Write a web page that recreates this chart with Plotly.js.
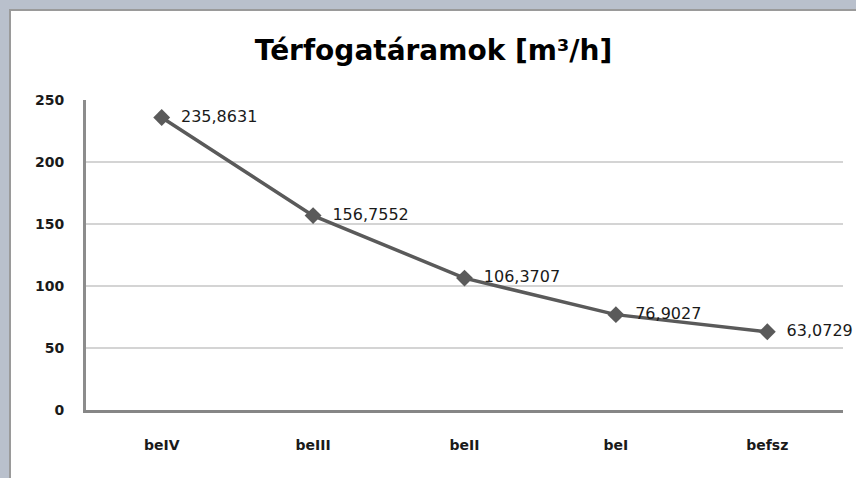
<!DOCTYPE html>
<html>
<head>
<meta charset="utf-8">
<script src="https://cdn.plot.ly/plotly-3.0.1.min.js"></script>
<style>
  html, body { margin: 0; padding: 0; width: 856px; height: 478px; overflow: hidden; background: #b9c0cc; }
  #frame { position: absolute; left: 9px; top: 9px; width: 845px; height: 467px; border-left: 2px solid #9a9a9a; border-top: 2px solid #9a9a9a; border-bottom: 2px solid #9a9a9a; background: #ffffff; }
  #chart { width: 845px; height: 467px; }
</style>
</head>
<body>
<div id="frame"><div id="chart"></div></div>
<script>
const categories = ["beIV", "beIII", "beII", "beI", "befsz"];
const values = [235.8631, 156.7552, 106.3707, 76.9027, 63.0729];
const yTicks = [0, 50, 100, 150, 200, 250];

const FONT = "'DejaVu Sans', Verdana, sans-serif";

const trace = {
  x: categories,
  y: values,
  type: "scatter",
  mode: "lines+markers+text",
  line: { color: "#5a5a5a", width: 3.5 },
  marker: { symbol: "diamond", size: 13, color: "#5a5a5a" },
  texttemplate: "  %{y:.4f}",
  textposition: "middle right",
  textfont: { family: FONT, size: 16, color: "#1a1a1a" },
  cliponaxis: false,
  hoverinfo: "skip"
};

const layout = {
  width: 845,
  height: 467,
  margin: { l: 75, r: 13, t: 89, b: 68 },
  paper_bgcolor: "#ffffff",
  plot_bgcolor: "#ffffff",
  separators: ",.",
  showlegend: false,
  title: {
    text: "<b>Térfogatáramok [m³/h]</b>",
    font: { family: FONT, size: 28, color: "#000000" },
    x: 0.5,
    xanchor: "center",
    y: 0.915,
    yanchor: "middle"
  },
  xaxis: {
    type: "category",
    range: [-0.5, 4.5],
    showgrid: false,
    showline: true,
    linecolor: "#868686",
    linewidth: 3,
    ticks: "",
    ticklabelstandoff: 20,
    tickfont: { family: FONT, size: 14, color: "#1a1a1a", weight: "bold" },
    zeroline: false,
    fixedrange: true
  },
  yaxis: {
    range: [0, 250],
    tickvals: yTicks,
    ticktext: yTicks.map(String),
    showgrid: true,
    gridcolor: "#d4d4d4",
    gridwidth: 2,
    showline: true,
    linecolor: "#8c8c8c",
    linewidth: 3,
    ticks: "",
    ticklabelstandoff: 16,
    tickfont: { family: FONT, size: 14, color: "#1a1a1a", weight: "bold" },
    zeroline: false,
    fixedrange: true
  }
};

Plotly.newPlot("chart", [trace], layout, { displayModeBar: false, staticPlot: true });
</script>
</body>
</html>
